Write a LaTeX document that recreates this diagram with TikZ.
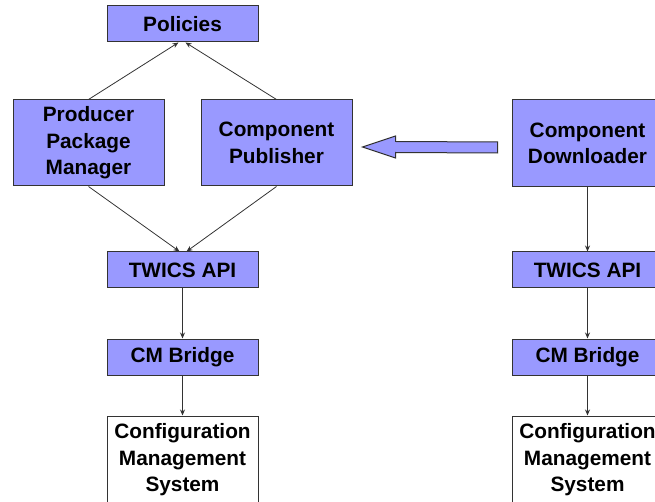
\documentclass[tikz,border=0pt]{standalone}
\usepackage{fontspec}
\setmainfont{Liberation Sans}
\usetikzlibrary{arrows.meta,calc}
\definecolor{boxblue}{HTML}{9999FF}
\definecolor{edgegray}{HTML}{333333}
\tikzset{
  blk/.style={draw=edgegray, line width=1pt, fill=boxblue, minimum width=151pt, align=center, inner sep=0pt,
    font=\fontsize{20.8}{26.5}\selectfont\bfseries},
  wbox/.style={blk, fill=white},
  conn/.style={draw=edgegray, line width=0.8pt, -{Stealth[length=6pt,width=5pt]}},
}
\begin{document}
\begin{tikzpicture}[x=1pt,y=-1pt]
\useasboundingbox (0,0) rectangle (655,502);
\node[blk, minimum height=36pt] (pol) at (182.5,24) {Policies};
\node[blk, minimum height=86pt] (ppm) at (88.5,143) {Producer\\Package\\Manager};
\node[blk, minimum height=86pt] (cp) at (276.5,143) {Component\\Publisher};
\node[blk, minimum height=87pt] (cd) at (587.5,143.5) {Component\\Downloader};
\node[blk, minimum height=36pt] (twl) at (182.5,270) {TWICS API};
\node[blk, minimum height=36pt] (cml) at (182.5,357) {CM Bridge};
\node[wbox, minimum height=88pt] (csl) at (182.5,460) {Configuration\\Management\\System};
\node[blk, minimum height=36pt] (twr) at (587.5,270) {TWICS API};
\node[blk, minimum height=36pt] (cmr) at (587.5,357) {CM Bridge};
\node[wbox, minimum height=88pt] (csr) at (587.5,460) {Configuration\\Management\\System};
\draw[conn] (ppm.north) -- ([xshift=-4pt]pol.south);
\draw[conn] (cp.north) -- ([xshift=3pt]pol.south);
\draw[conn] (ppm.south) -- ([xshift=-3pt]twl.north);
\draw[conn] (cp.south) -- ([xshift=4pt]twl.north);
\draw[conn] (twl) -- (cml);
\draw[conn] (cml) -- (csl);
\draw[conn] (cd) -- (twr);
\draw[conn] (twr) -- (cmr);
\draw[conn] (cmr) -- (csr);
\coordinate (tip) at ($(cp.east)+(10,4)$);
\coordinate (tail) at ($(cd.west)+(-14,4)$);
\draw[draw=edgegray, line width=1pt, fill=boxblue]
  (tip) -- ($(tip)+(33,-11)$) -- ($(tip)+(33,-5.5)$) -- ($(tail)+(0,-5.5)$)
  -- ($(tail)+(0,5.5)$) -- ($(tip)+(33,5.5)$) -- ($(tip)+(33,11)$) -- cycle;
\end{tikzpicture}
\end{document}
